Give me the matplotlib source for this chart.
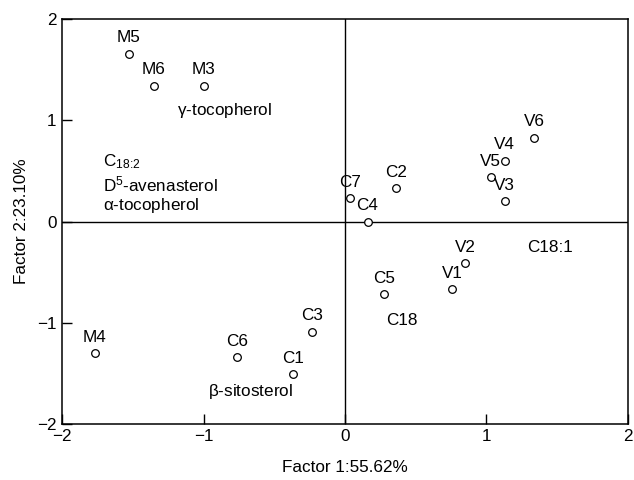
import matplotlib
matplotlib.use("Agg")
import matplotlib.pyplot as plt

plt.rcParams['font.family'] = ['Liberation Sans', 'DejaVu Sans']
plt.rcParams['mathtext.fontset'] = 'custom'
plt.rcParams['mathtext.rm'] = 'Liberation Sans'
plt.rcParams['mathtext.default'] = 'regular'

# Samples (scores)
sample_names = ["M5", "M6", "M3", "M4", "C6", "C1", "C3", "C7", "C4", "C2",
                "C5", "V1", "V2", "V5", "V4", "V3", "V6"]
factor1 = [-1.53, -1.35, -1.00, -1.77, -0.76, -0.37, -0.23, 0.035, 0.16, 0.36,
           0.28, 0.76, 0.85, 1.03, 1.13, 1.13, 1.34]
factor2 = [1.66, 1.34, 1.34, -1.30, -1.34, -1.51, -1.09, 0.23, 0.0, 0.33,
           -0.72, -0.67, -0.41, 0.44, 0.60, 0.20, 0.83]

# Variable labels (loadings text)
var_labels = [r"$\gamma$-tocopherol", r"C$_{18\!:\!2}$", "D$^{5}$-avenasterol",
              r"$\alpha$-tocopherol", "C18:1", "C18", r"$\beta$-sitosterol"]
var_x = [-1.19, -1.71, -1.71, -1.71, 1.29, 0.29, -0.97]
var_y = [1.10, 0.59, 0.37, 0.16, -0.26, -0.98, -1.68]

FS = 12.3

fig = plt.figure(figsize=(6.34, 4.8), dpi=100)
ax = fig.add_axes([0.098, 0.117, 0.892, 0.843])

ax.plot(factor1, factor2, 'o', mfc='white', mec='black', ms=5.5, mew=0.9,
        linestyle='none', zorder=3)
for n, x, y in zip(sample_names, factor1, factor2):
    ax.annotate(n, (x, y), xytext=(0, 11.5), textcoords='offset points',
                ha='center', va='center', fontsize=FS)

for t, x, y in zip(var_labels, var_x, var_y):
    ax.text(x, y, t, ha='left', va='center', fontsize=FS)

ax.axhline(0, color='black', lw=1.0, zorder=1)
ax.axvline(0, color='black', lw=1.0, zorder=1)

ax.set_xlim(-2, 2)
ax.set_ylim(-2, 2)
ax.set_xticks([-2, -1, 0, 1, 2])
ax.set_yticks([-2, -1, 0, 1, 2])
ax.set_xticklabels(["\u22122", "\u22121", "0", "1", "2"])
ax.set_yticklabels(["\u22122", "\u22121", "0", "1", "2"])
ax.tick_params(direction='in', length=7, width=1, labelsize=FS,
               top=False, right=False, pad=4)
for s in ax.spines.values():
    s.set_linewidth(1.1)

ax.set_xlabel("Factor 1:55.62%", fontsize=FS, labelpad=11)
ax.set_ylabel("Factor 2:23.10%", fontsize=FS, labelpad=6)

fig.savefig("out.png", dpi=100)
